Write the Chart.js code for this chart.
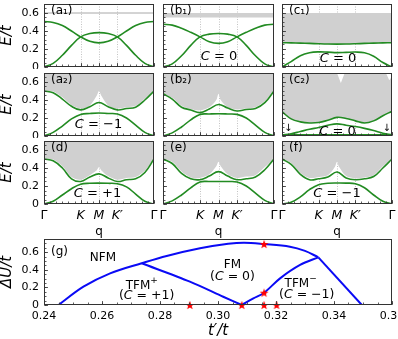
<!DOCTYPE html>
<html>
<head>
<meta charset="utf-8">
<script src="https://cdn.jsdelivr.net/npm/chart.js@4.4.1/dist/chart.umd.min.js"></script>
<style>
  html, body { margin: 0; padding: 0; background: #fff; overflow: hidden; width: 398px; height: 339px; position: relative; }
  canvas { position: absolute; }
</style>
</head>
<body>
<script>
// ---- band panels: path Γ-K-M-K'-Γ mapped to 0..1 ----
const qPath = [0, 0.083, 0.167, 0.25, 0.333, 0.417, 0.5, 0.583, 0.667, 0.75, 0.833, 0.917, 1];
const qEdge = [0, 0.083, 0.167, 0.25, 0.333, 0.417, 0.48, 0.5, 0.52, 0.583, 0.667, 0.75, 0.833, 0.917, 1];
const qEnds = [0, 1];
const qTicks = [0, 1 / 3, 0.5, 2 / 3, 1];
const qLabels = ['Γ', 'K', 'M', 'K′', 'Γ'];
const eTicks = [0, 0.2, 0.4, 0.6];
const eLabels = ['0', '0.2', '0.4', '0.6'];

const a1B1 = [0, 0.04, 0.13, 0.24, 0.335, 0.372, 0.382, 0.372, 0.335, 0.24, 0.13, 0.04, 0];
const a1B2 = [0.505, 0.495, 0.46, 0.4, 0.335, 0.285, 0.268, 0.285, 0.335, 0.4, 0.46, 0.495, 0.505];
const a1Cont = [0.6, 0.6];

const b1B1 = [0, 0.035, 0.125, 0.24, 0.335, 0.365, 0.372, 0.365, 0.335, 0.24, 0.125, 0.035, 0];
const b1B2 = [0.475, 0.465, 0.43, 0.385, 0.335, 0.28, 0.262, 0.28, 0.335, 0.385, 0.43, 0.465, 0.475];
const b1Cont = [0.55, 0.55];

const c1Up = [0.27, 0.268, 0.265, 0.262, 0.258, 0.255, 0.254, 0.255, 0.258, 0.262, 0.265, 0.268, 0.27];
const c1Low = [0, 0.06, 0.125, 0.158, 0.168, 0.165, 0.16, 0.163, 0.166, 0.158, 0.12, 0.05, 0];

const a2Up = [0.5, 0.48, 0.41, 0.33, 0.29, 0.325, 0.373, 0.325, 0.29, 0.305, 0.32, 0.4, 0.5];
const a2Low = [0, 0.04, 0.11, 0.19, 0.24, 0.25, 0.255, 0.25, 0.245, 0.2, 0.12, 0.04, 0];
const a2Edge = [0.5, 0.495, 0.43, 0.345, 0.305, 0.34, 0.45, 0.5, 0.45, 0.34, 0.305, 0.32, 0.335, 0.415, 0.5];

const b2Up = [0.47, 0.41, 0.32, 0.29, 0.26, 0.3, 0.35, 0.31, 0.278, 0.295, 0.305, 0.37, 0.5];
const b2Low = [0, 0.035, 0.1, 0.18, 0.24, 0.245, 0.248, 0.245, 0.24, 0.2, 0.12, 0.04, 0];
const b2Edge = [0.47, 0.425, 0.335, 0.3, 0.285, 0.32, 0.4, 0.47, 0.4, 0.32, 0.295, 0.305, 0.32, 0.39, 0.5];

const c2Up = [0.27, 0.19, 0.157, 0.145, 0.15, 0.175, 0.207, 0.195, 0.168, 0.144, 0.168, 0.225, 0.275];
const c2Mid = [0.012, 0.025, 0.05, 0.075, 0.095, 0.12, 0.135, 0.12, 0.105, 0.085, 0.06, 0.03, 0.012];
const c2Flat = [0.012, 0.012];
const c2NotchQ = [0, 0.5, 0.535, 0.57, 0.945, 0.975, 1];
const c2Notch = [0.7, 0.7, 0.59, 0.7, 0.7, 0.62, 0.66];

const dUp = [0.5, 0.48, 0.4, 0.28, 0.25, 0.3, 0.335, 0.29, 0.25, 0.27, 0.28, 0.35, 0.5];
const dLow = [0, 0.03, 0.1, 0.17, 0.22, 0.23, 0.232, 0.23, 0.225, 0.19, 0.11, 0.03, 0];
const dEdge = [0.5, 0.495, 0.42, 0.3, 0.27, 0.32, 0.375, 0.41, 0.375, 0.31, 0.27, 0.29, 0.3, 0.37, 0.5];

const eUp = [0.5, 0.45, 0.34, 0.28, 0.27, 0.31, 0.36, 0.31, 0.27, 0.28, 0.3, 0.38, 0.5];
const eLow = [0, 0.035, 0.1, 0.18, 0.245, 0.25, 0.25, 0.25, 0.245, 0.2, 0.12, 0.04, 0];
const eEdge = [0.5, 0.47, 0.36, 0.295, 0.29, 0.33, 0.42, 0.47, 0.42, 0.33, 0.29, 0.305, 0.32, 0.41, 0.5];

const fUp = [0.5, 0.44, 0.33, 0.27, 0.28, 0.3, 0.355, 0.29, 0.27, 0.28, 0.305, 0.4, 0.5];
const fLow = [0, 0.02, 0.08, 0.16, 0.215, 0.23, 0.233, 0.232, 0.225, 0.18, 0.1, 0.03, 0];
const fEdge = [0.5, 0.455, 0.345, 0.29, 0.3, 0.32, 0.41, 0.47, 0.41, 0.31, 0.285, 0.295, 0.32, 0.42, 0.5];

// ---- phase diagram (g) ----
const nfmT = [0.245, 0.2536, 0.2628, 0.2737, 0.2823, 0.2938, 0.3035, 0.309, 0.3159, 0.3248, 0.33, 0.3346];
const nfmU = [0, 0.208, 0.36, 0.474, 0.557, 0.644, 0.695, 0.708, 0.693, 0.663, 0.615, 0.542];
const edgeT = [0.3346, 0.3496];
const edgeU = [0.542, 0];
const tfmPT = [0.2737, 0.2903, 0.3018, 0.3082];
const tfmPU = [0.474, 0.265, 0.094, 0];
const tfmMT = [0.3082, 0.3122, 0.3159, 0.3214, 0.3283, 0.3346];
const tfmMU = [0, 0.076, 0.14, 0.303, 0.455, 0.542];
const starT = [0.2903, 0.3082, 0.3159, 0.3202, 0.3159, 0.3159];
const starU = [0, 0, 0, 0, 0.14, 0.693];
const tTicks = [0.24, 0.26, 0.28, 0.30, 0.32, 0.34, 0.36];
const tLabels = ['0.24', '0.26', '0.28', '0.30', '0.32', '0.34', '0.36'];

const GREEN = '#228b22', GREY = '#d0d0d0', BLUE = '#0a0af5', FRAME = '#333';
const FONT = '"DejaVu Sans", sans-serif';
Chart.defaults.font.family = FONT;
Chart.defaults.color = '#000';

const qMinor = Array.from({length: 19}, (_, k) => k / 18);
const eMinor = Array.from({length: 15}, (_, k) => k * 0.05);
const tMinor = Array.from({length: 25}, (_, k) => 0.24 + k * 0.005);

function pts(q, e) { return q.map((v, i) => ({x: v, y: e[i]})); }

function drawParts(ctx, parts, cx, cy, align) {
  const fonts = parts.map(p => `${p.it ? 'italic ' : ''}${p.size || 13}px ${FONT}`);
  const widths = parts.map((p, i) => { ctx.font = fonts[i]; return ctx.measureText(p.t).width; });
  const total = widths.reduce((s, w) => s + w, 0);
  let xx = align === 'left' ? cx : cx - total / 2;
  ctx.textBaseline = 'middle'; ctx.textAlign = 'left'; ctx.fillStyle = '#000';
  parts.forEach((p, i) => { ctx.font = fonts[i]; ctx.fillText(p.t, xx, cy + (p.dy || 0)); xx += widths[i]; });
}

// frame, inward ticks, dotted K/M/K' lines and text annotations
function makeDeco(cfg) {
  return {
    id: 'deco',
    beforeDatasetsDraw(chart) {
      if (!cfg.vlines) return;
      const {ctx, chartArea: a, scales: {x}} = chart;
      ctx.save();
      ctx.strokeStyle = '#b4b4b4'; ctx.lineWidth = 0.8; ctx.setLineDash([1, 1.5]);
      cfg.vlines.forEach(v => {
        const px = Math.round(x.getPixelForValue(v)) + 0.5;
        ctx.beginPath(); ctx.moveTo(px, a.top); ctx.lineTo(px, a.bottom); ctx.stroke();
      });
      ctx.restore();
    },
    afterDatasetsDraw(chart) {
      const {ctx, chartArea: a, scales: {x, y}} = chart;
      ctx.save();
      const L = Math.round(a.left) + 0.5, R = Math.round(a.right) - 0.5;
      const T = Math.round(a.top) + 0.5, B = Math.round(a.bottom) - 0.5;
      ctx.strokeStyle = FRAME; ctx.lineWidth = 0.8;
      const tick = (list, len, horiz) => list.forEach(v => {
        ctx.beginPath();
        if (horiz) { const px = Math.round(x.getPixelForValue(v)) + 0.5; ctx.moveTo(px, B); ctx.lineTo(px, B - len); }
        else { const py = Math.round(y.getPixelForValue(v)) + 0.5; ctx.moveTo(L, py); ctx.lineTo(L + len, py); }
        ctx.stroke();
      });
      tick(cfg.xMajor, 3.5, true); tick(cfg.xMinor, 2, true);
      tick(cfg.yMajor, 3.5, false); tick(cfg.yMinor, 2, false);
      ctx.lineWidth = 1;
      ctx.strokeRect(L, T, R - L, B - T);
      (cfg.texts || []).forEach(t => {
        const cx = t.px != null ? a.left + t.px : x.getPixelForValue(t.x);
        const cy = t.py != null ? a.top + t.py : y.getPixelForValue(t.y);
        drawParts(ctx, t.parts, cx, cy, t.align);
      });
      ctx.restore();
    }
  };
}

function addCanvas(left, top, w, h) {
  const c = document.createElement('canvas');
  c.width = w; c.height = h;
  c.style.left = left + 'px'; c.style.top = top + 'px';
  document.body.appendChild(c);
  return c;
}

const cols = [
  {left: 0, w: 162, padL: 0, padR: 8},
  {left: 155, w: 127, padL: 8, padR: 8},
  {left: 274, w: 126, padL: 8, padR: 8}
];
const rows = [
  {top: 0, h: 69, padT: 4, padB: 2},
  {top: 69, h: 69, padT: 4, padB: 2},
  {top: 137, h: 101, padT: 4, padB: 0}
];

function cText(sign, q, e) {
  return {x: q, y: e, parts: [{t: 'C', it: true}, {t: ' = ' + sign}]};
}

const panels = [
  {col: 0, row: 0, label: '(a₁)', line: a1Cont, bands: [a1B1, a1B2]},
  {col: 1, row: 0, label: '(b₁)', flat: b1Cont, bands: [b1B1, b1B2], texts: [cText('0', 0.505, 0.114)]},
  {col: 2, row: 0, label: '(c₁)', fillUp: c1Up, bands: [c1Up, c1Low], texts: [cText('0', 0.509, 0.097)]},
  {col: 0, row: 1, label: '(a₂)', edge: a2Edge, bands: [a2Up, a2Low], texts: [cText('−1', 0.495, 0.122)]},
  {col: 1, row: 1, label: '(b₂)', edge: b2Edge, bands: [b2Up, b2Low]},
  {col: 2, row: 1, label: '(c₂)', edgeBand: c2Up, notch: c2Notch, bands: [c2Up, c2Mid], flatBand: c2Flat,
   texts: [cText('0', 0.505, 0.048),
           {x: 0.057, y: 0.086, parts: [{t: '↓', size: 10}]},
           {x: 0.952, y: 0.086, parts: [{t: '↓', size: 10}]}]},
  {col: 0, row: 2, label: '(d)', edge: dEdge, bands: [dUp, dLow], texts: [cText('+1', 0.486, 0.119)]},
  {col: 1, row: 2, label: '(e)', edge: eEdge, bands: [eUp, eLow]},
  {col: 2, row: 2, label: '(f)', edge: fEdge, bands: [fUp, fLow], texts: [cText('−1', 0.5, 0.119)]}
];

function bandChart(p) {
  const col = cols[p.col], row = rows[p.row];
  const showX = p.row === 2, showY = p.col === 0;
  const canvas = addCanvas(col.left, row.top, col.w, row.h);
  const ds = [];
  const hidden = {borderColor: 'rgba(0,0,0,0)', borderWidth: 0};
  if (p.line) ds.push({data: pts(qEnds, p.line), borderColor: '#a8a8a8', borderWidth: 1, tension: 0, order: 3});
  if (p.flat) ds.push({...hidden, data: pts(qEnds, p.flat), tension: 0, fill: {value: 0.6}, backgroundColor: GREY, order: 3});
  if (p.fillUp) ds.push({...hidden, data: pts(qPath, p.fillUp), tension: 0.4, fill: {value: 0.6}, backgroundColor: GREY, order: 3});
  if (p.edge) ds.push({...hidden, data: pts(qEdge, p.edge), tension: 0.3, fill: 'end', backgroundColor: GREY, order: 3});
  if (p.edgeBand) ds.push({...hidden, data: pts(qPath, p.edgeBand), tension: 0.4, fill: 'end', backgroundColor: GREY, order: 3});
  if (p.notch) ds.push({...hidden, data: pts(c2NotchQ, p.notch), tension: 0, fill: 'end', backgroundColor: '#fff', order: 2});
  p.bands.forEach(b => ds.push({data: pts(qPath, b), borderColor: GREEN, borderWidth: 1.6, tension: 0.4, fill: false, order: 1}));
  if (p.flatBand) ds.push({data: pts(qEnds, p.flatBand), borderColor: GREEN, borderWidth: 1.6, tension: 0, fill: false, order: 1});

  const texts = [{px: 7, py: 7, align: 'left', parts: [{t: p.label, size: 12}]}].concat(p.texts || []);

  new Chart(canvas, {
    type: 'line',
    data: {datasets: ds},
    plugins: [makeDeco({vlines: [1 / 3, 0.5, 2 / 3], xMajor: qTicks, xMinor: qMinor, yMajor: eTicks, yMinor: eMinor, texts})],
    options: {
      responsive: false, animation: false, devicePixelRatio: 1, events: [],
      layout: {padding: {left: col.padL, right: col.padR, top: row.padT, bottom: row.padB}},
      plugins: {legend: {display: false}, tooltip: {enabled: false}},
      elements: {point: {radius: 0}},
      scales: {
        x: {
          type: 'linear', min: 0, max: 1, display: showX,
          grid: {display: false, drawTicks: false}, border: {display: false},
          afterBuildTicks: s => { s.ticks = qTicks.map(v => ({value: v})); },
          ticks: {autoSkip: false, maxRotation: 0, padding: 4,
                  font: c => ({size: 12.5, style: (c.index > 0 && c.index < 4) ? 'italic' : 'normal'}),
                  callback: (v, i) => qLabels[i]},
          title: {display: true, text: 'q', font: {size: 12, lineHeight: 1}, padding: 0},
          afterFit: s => { if (showX) { s.height = 34; s.paddingLeft = 0; s.paddingRight = 0; } }
        },
        y: {
          type: 'linear', min: 0, max: 0.7, display: showY,
          grid: {display: false, drawTicks: false}, border: {display: false},
          afterBuildTicks: s => { s.ticks = eTicks.map(v => ({value: v})); },
          ticks: {padding: 5, font: {size: 11}, callback: (v, i) => eLabels[i]},
          title: {display: true, text: 'E/t', font: {size: 15, style: 'italic', lineHeight: 1}, padding: 0},
          afterFit: s => { if (showY) { s.width = 44; s.paddingTop = 0; s.paddingBottom = 0; } }
        }
      }
    }
  });
}

panels.forEach(bandChart);

// red star marker
function starImg(r) {
  const c = document.createElement('canvas');
  const s = Math.ceil(r * 2) + 2;
  c.width = c.height = s;
  const g = c.getContext('2d');
  g.fillStyle = '#ff0000';
  g.beginPath();
  for (let i = 0; i < 10; i++) {
    const rr = i % 2 ? r * 0.42 : r;
    const ang = -Math.PI / 2 + i * Math.PI / 5;
    g.lineTo(s / 2 + rr * Math.cos(ang), s / 2 + rr * Math.sin(ang) + r * 0.1);
  }
  g.closePath(); g.fill();
  return c;
}

const gCanvas = addCanvas(0, 232, 398, 107);
const blueLine = (t, u, tension) => ({data: pts(t, u), borderColor: BLUE, borderWidth: 2, tension, fill: false, order: 2});
new Chart(gCanvas, {
  type: 'line',
  data: {datasets: [
    blueLine(nfmT, nfmU, 0.35),
    blueLine(edgeT, edgeU, 0),
    blueLine(tfmPT, tfmPU, 0.3),
    blueLine(tfmMT, tfmMU, 0.35),
    {data: pts(starT, starU), showLine: false, pointStyle: starImg(4.6), pointRadius: 5, clip: false, order: 1}
  ]},
  plugins: [makeDeco({
    xMajor: tTicks, xMinor: tMinor, yMajor: eTicks, yMinor: eMinor,
    texts: [
      {px: 7, py: 13, align: 'left', parts: [{t: '(g)', size: 12}]},
      {x: 0.2603, y: 0.54, parts: [{t: 'NFM', size: 12}]},
      {x: 0.2737, y: 0.218, parts: [{t: 'TFM', size: 12}, {t: '+', size: 9, dy: -5}]},
      {x: 0.2754, y: 0.108, parts: [{t: '(', size: 12.5}, {t: 'C', it: true, size: 12.5}, {t: ' = +1)', size: 12.5}]},
      {x: 0.305, y: 0.455, parts: [{t: 'FM', size: 12}]},
      {x: 0.305, y: 0.322, parts: [{t: '(', size: 12.5}, {t: 'C', it: true, size: 12.5}, {t: ' = 0)', size: 12.5}]},
      {x: 0.3285, y: 0.239, parts: [{t: 'TFM', size: 12}, {t: '−', size: 9, dy: -5}]},
      {x: 0.3306, y: 0.114, parts: [{t: '(', size: 12.5}, {t: 'C', it: true, size: 12.5}, {t: ' = −1)', size: 12.5}]}
    ]
  })],
  options: {
    responsive: false, animation: false, devicePixelRatio: 1, events: [],
    layout: {padding: {left: 0, right: 6, top: 7, bottom: 0}},
    plugins: {legend: {display: false}, tooltip: {enabled: false}},
    elements: {point: {radius: 0}},
    scales: {
      x: {
        type: 'linear', min: 0.24, max: 0.36,
        grid: {display: false, drawTicks: false}, border: {display: false},
        afterBuildTicks: s => { s.ticks = tTicks.map(v => ({value: v})); },
        ticks: {autoSkip: false, maxRotation: 0, padding: 5, font: {size: 11}, callback: (v, i) => tLabels[i]},
        title: {display: true, text: 't′/t', font: {size: 15, style: 'italic', lineHeight: 1}, padding: 0},
        afterFit: s => { s.height = 34; s.paddingLeft = 0; s.paddingRight = 0; }
      },
      y: {
        type: 'linear', min: 0, max: 0.75,
        grid: {display: false, drawTicks: false}, border: {display: false},
        afterBuildTicks: s => { s.ticks = eTicks.map(v => ({value: v})); },
        ticks: {padding: 5, font: {size: 11}, callback: (v, i) => eLabels[i]},
        title: {display: true, text: 'ΔU/t', font: {size: 15, style: 'italic', lineHeight: 1}, padding: 0},
        afterFit: s => { s.width = 44; s.paddingTop = 0; s.paddingBottom = 0; }
      }
    }
  }
});
</script>
</body>
</html>
